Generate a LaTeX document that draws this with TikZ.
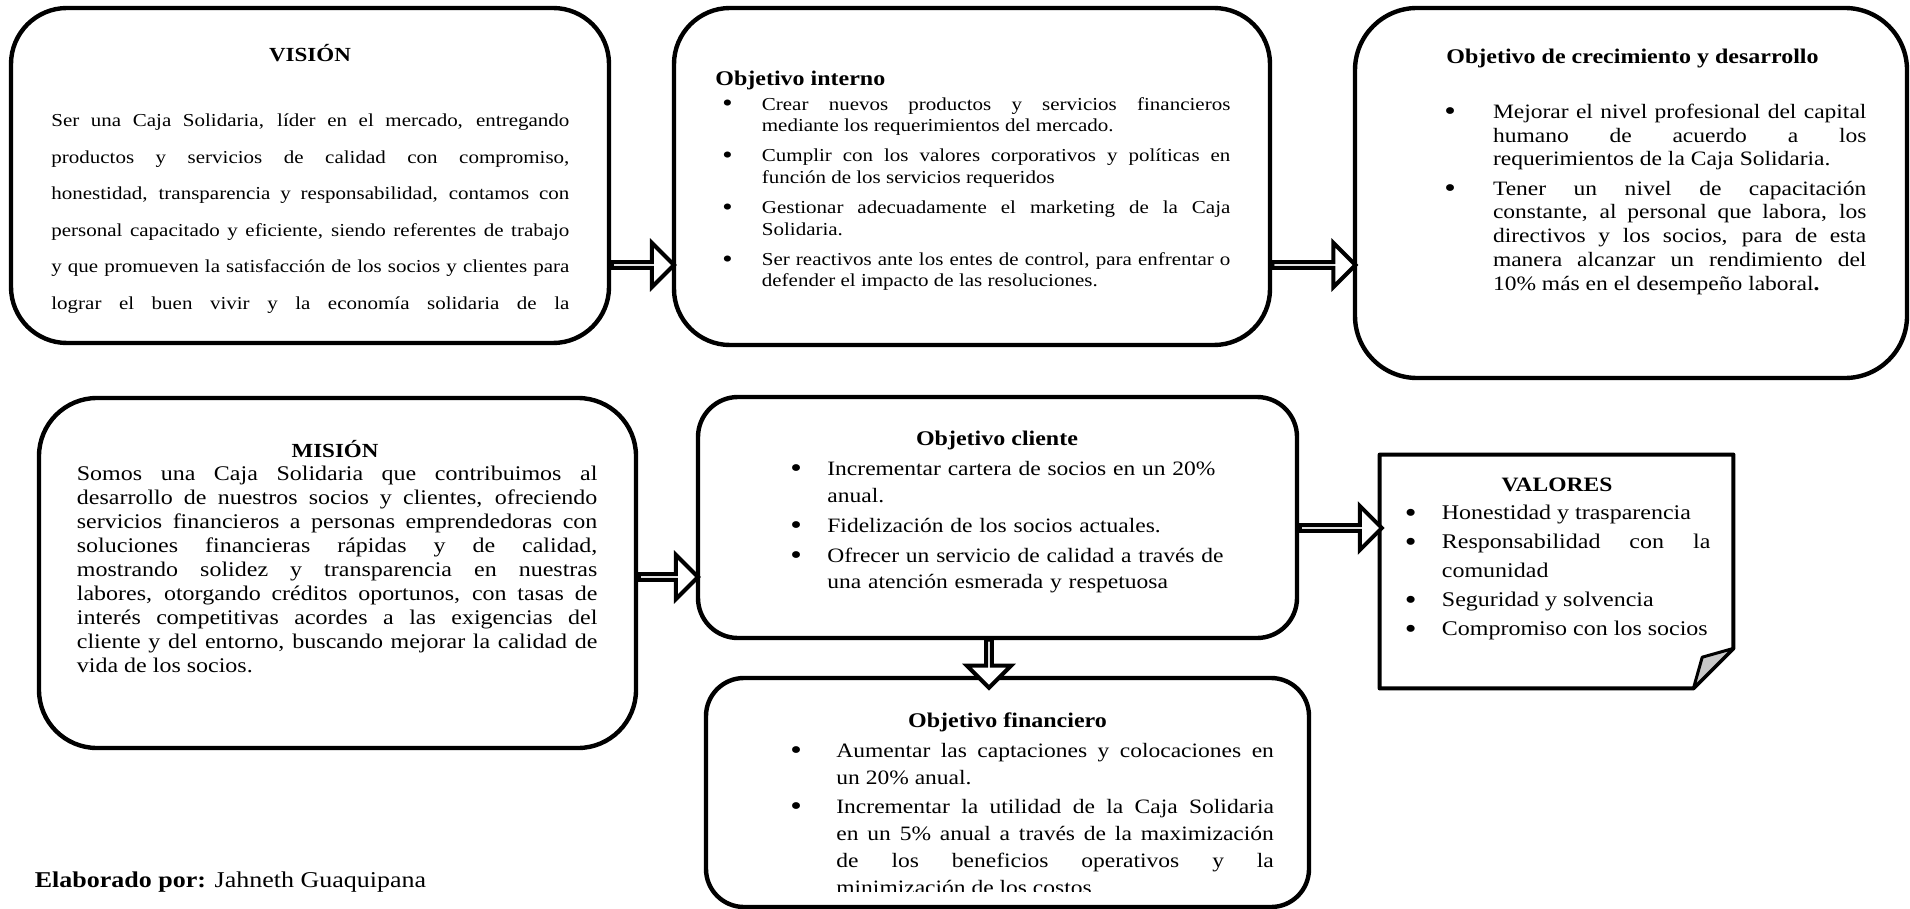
\documentclass[tikz,border=0pt]{standalone}
\usepackage{fontspec}
\setmainfont[FakeStretch=1.15]{Liberation Serif}
\usetikzlibrary{shapes.arrows, positioning, calc}

\definecolor{pliegue}{RGB}{200,200,200}
\newlength{\sangria}
\newlength{\puntox}
\newcommand{\vineta}[1]{\noindent\hangindent=\sangria\hangafter=1%
  \makebox[\sangria][l]{\hspace*{\puntox}\raisebox{-0.1em}{\scalebox{1.4}{\textbullet}}}#1\par}
\newcommand{\arranque}{\rule{0pt}{1em}}
\tolerance=10000
\hyphenpenalty=10000

\tikzset{
  caja/.style={rectangle, draw, line width=2.2pt, inner sep=0pt},
  texto/.style={inner sep=0pt, anchor=north west, align=justify},
  titulo/.style={inner sep=0pt, font=\bfseries\fontsize{10.43}{12}\selectfont},
  flecha/.style={single arrow, draw, fill=white, line width=2pt, inner sep=0pt,
    minimum width=22pt, single arrow head extend=6.5pt}
}

\begin{document}
\begin{tikzpicture}[x=0.5pt, y=-0.5pt]
  \path[use as bounding box, fill=white] (0,0) rectangle (1910,909);

  % cajas
  \node[caja, rounded corners=28pt, minimum width=299pt, minimum height=167.5pt] (vision) at (310,175.5) {};
  \node[caja, rounded corners=28pt, minimum width=298pt, minimum height=168.5pt] (interno) at (972,176.5) {};
  \node[caja, rounded corners=31pt, minimum width=276pt, minimum height=185pt] (crec) at (1631,193) {};
  \node[caja, rounded corners=29pt, minimum width=298.5pt, minimum height=175pt] (mision) at (337.5,573) {};
  \node[caja, rounded corners=20pt, minimum width=299.5pt, minimum height=120.5pt] (cliente) at (997.5,517.5) {};
  \node[caja, rounded corners=19pt, minimum width=301.5pt, minimum height=114.5pt] (financiero) at (1007.5,792.5) {};

  % nota con esquina doblada
  \node[inner sep=0pt, minimum width=176.5pt, minimum height=116.5pt] (valores) at (1556.5,571.5) {};
  \draw[line width=2pt, line join=round] (valores.north west) -- (valores.north east)
    -- ([yshift=20pt]valores.south east) -- ([xshift=-20pt]valores.south east)
    -- (valores.south west) -- cycle;
  \filldraw[fill=pliegue, line width=1.5pt, line join=round] ([yshift=20pt]valores.south east)
    -- ([xshift=-15.6pt, yshift=15.6pt]valores.south east) -- ([xshift=-20pt]valores.south east) -- cycle;

  % VISION
  \node[titulo, anchor=base, font=\bfseries\fontsize{10}{12}\selectfont] (visiontit) at (310,61.7) {VISIÓN};
  \node[texto, text width=259pt, font=\fontsize{9.13}{18.33}\selectfont] (visiontxt) at (51,107.7)
    {\parfillskip=0pt\noindent\arranque Ser una Caja Solidaria, líder en el mercado, entregando\linebreak
    productos y servicios de calidad con compromiso,\linebreak
    honestidad, transparencia y responsabilidad, contamos con\linebreak
    personal capacitado y eficiente, siendo referentes de trabajo\linebreak
    y que promueven la satisfacción de los socios y clientes para\linebreak
    lograr el buen vivir y la economía solidaria de la\par};

  % objetivo interno
  \node[titulo, anchor=base west] (internotit) at (715,85.4) {Objetivo interno};
  \node[texto, text width=257.5pt, font=\fontsize{9.13}{10.7}\selectfont] (internotxt) at (715,91.4)
    {\arranque\setlength{\sangria}{23.25pt}\setlength{\puntox}{3.5pt}\setlength{\parskip}{4.5pt}%
    \vineta{Crear nuevos productos y servicios financieros\linebreak mediante los requerimientos del mercado.}%
    \vineta{Cumplir con los valores corporativos y políticas en\linebreak función de los servicios requeridos}%
    \vineta{Gestionar adecuadamente el marketing de la Caja\linebreak Solidaria.}%
    \vineta{Ser reactivos ante los entes de control, para enfrentar o\linebreak defender el impacto de las resoluciones.}};

  % crecimiento y desarrollo
  \node[titulo, anchor=base west] (crectit) at (1446,63.4) {Objetivo de crecimiento y desarrollo};
  \node[texto, text width=211pt, font=\fontsize{10.22}{11.9}\selectfont] (crectxt) at (1444,97.5)
    {\arranque\setlength{\sangria}{24.3pt}\setlength{\puntox}{0pt}\setlength{\parskip}{2.7pt}%
    \vineta{Mejorar el nivel profesional del capital\linebreak humano de acuerdo a los\linebreak requerimientos de la Caja Solidaria.}%
    \vineta{Tener un nivel de capacitación\linebreak constante, al personal que labora, los\linebreak directivos y los socios, para de esta\linebreak manera alcanzar un rendimiento del\linebreak 10\% más en el desempeño laboral\textbf{.}}};

  % MISION
  \node[titulo, anchor=base, font=\bfseries\fontsize{10}{12}\selectfont] (misiontit) at (335,457.5) {MISIÓN};
  \node[texto, text width=260.25pt, font=\fontsize{10.43}{12}\selectfont] (misiontxt) at (76.5,459.1)
    {\noindent\arranque Somos una Caja Solidaria que contribuimos al\linebreak
    desarrollo de nuestros socios y clientes, ofreciendo\linebreak
    servicios financieros a personas emprendedoras con\linebreak
    soluciones financieras rápidas y de calidad,\linebreak
    mostrando solidez y transparencia en nuestras\linebreak
    labores, otorgando créditos oportunos, con tasas de\linebreak
    interés competitivas acordes a las exigencias del\linebreak
    cliente y del entorno, buscando mejorar la calidad de\linebreak
    vida de los socios.\par};

  % objetivo cliente
  \node[titulo, anchor=base] (clientetit) at (997,445) {Objetivo cliente};
  \node[texto, align=left, text width=239pt, font=\fontsize{10.22}{13.15}\selectfont] (clientetxt) at (782,454.9)
    {\arranque\setlength{\sangria}{22.5pt}\setlength{\puntox}{4pt}\setlength{\parskip}{1.85pt}%
    \vineta{Incrementar cartera de socios en un 20\%\newline anual.}%
    \vineta{Fidelización de los socios actuales.}%
    \vineta{Ofrecer un servicio de calidad a través de\newline una atención esmerada y respetuosa}};

  % VALORES
  \node[titulo, anchor=base, font=\bfseries\fontsize{10.22}{12}\selectfont] (valorestit) at (1557,491.7) {VALORES};
  \node[texto, text width=152.75pt, font=\fontsize{10.43}{14.5}\selectfont] (valorestxt) at (1404.5,498.7)
    {\arranque\setlength{\sangria}{18.5pt}\setlength{\puntox}{0pt}\setlength{\parskip}{0pt}%
    \vineta{Honestidad y trasparencia}%
    \vineta{Responsabilidad con la\linebreak comunidad}%
    \vineta{Seguridad y solvencia}%
    \vineta{Compromiso con los socios}};

  % objetivo financiero (texto cortado abajo)
  \node[titulo, anchor=base] (fintit) at (1007.5,727) {Objetivo financiero};
  \begin{scope}
    \clip (700,690) rectangle (1320,891);
    \node[texto, text width=241.75pt, font=\fontsize{10.22}{13.6}\selectfont] (fintxt) at (790,736.5)
      {\arranque\setlength{\sangria}{23pt}\setlength{\puntox}{0pt}\setlength{\parskip}{0.7pt}%
      \vineta{Aumentar las captaciones y colocaciones en\linebreak un 20\% anual.}%
      \vineta{Incrementar la utilidad de la Caja Solidaria\linebreak en un 5\% anual a través de la maximización\linebreak de los beneficios operativos y la\linebreak minimización de los costos}};
  \end{scope}

  \node[inner sep=0pt, anchor=base west, font=\fontsize{11.3}{13}\selectfont] (autor) at (34.5,887)
    {\textbf{Elaborado por:} Jahneth Guaquipana};

  % flechas
  \path (vision.east |- 0,265) -- (interno.west |- 0,265) node[midway, flecha, minimum height=31pt] (f1) {};
  \path (interno.east |- 0,265) -- (crec.west |- 0,265) node[midway, flecha, minimum height=41.5pt] (f2) {};
  \path (mision.east |- 0,577) -- (cliente.west |- 0,577) node[midway, flecha, minimum height=29.5pt] (f3) {};
  \path (cliente.east |- 0,528) -- (valores.west |- 0,528) node[midway, flecha, minimum height=41pt] (f4) {};
  \path (cliente.south -| 989,0) -- (financiero.north -| 989,0) node[pos=0.62, flecha, rotate=-90, minimum height=24pt] (f5) {};
\end{tikzpicture}
\end{document}
